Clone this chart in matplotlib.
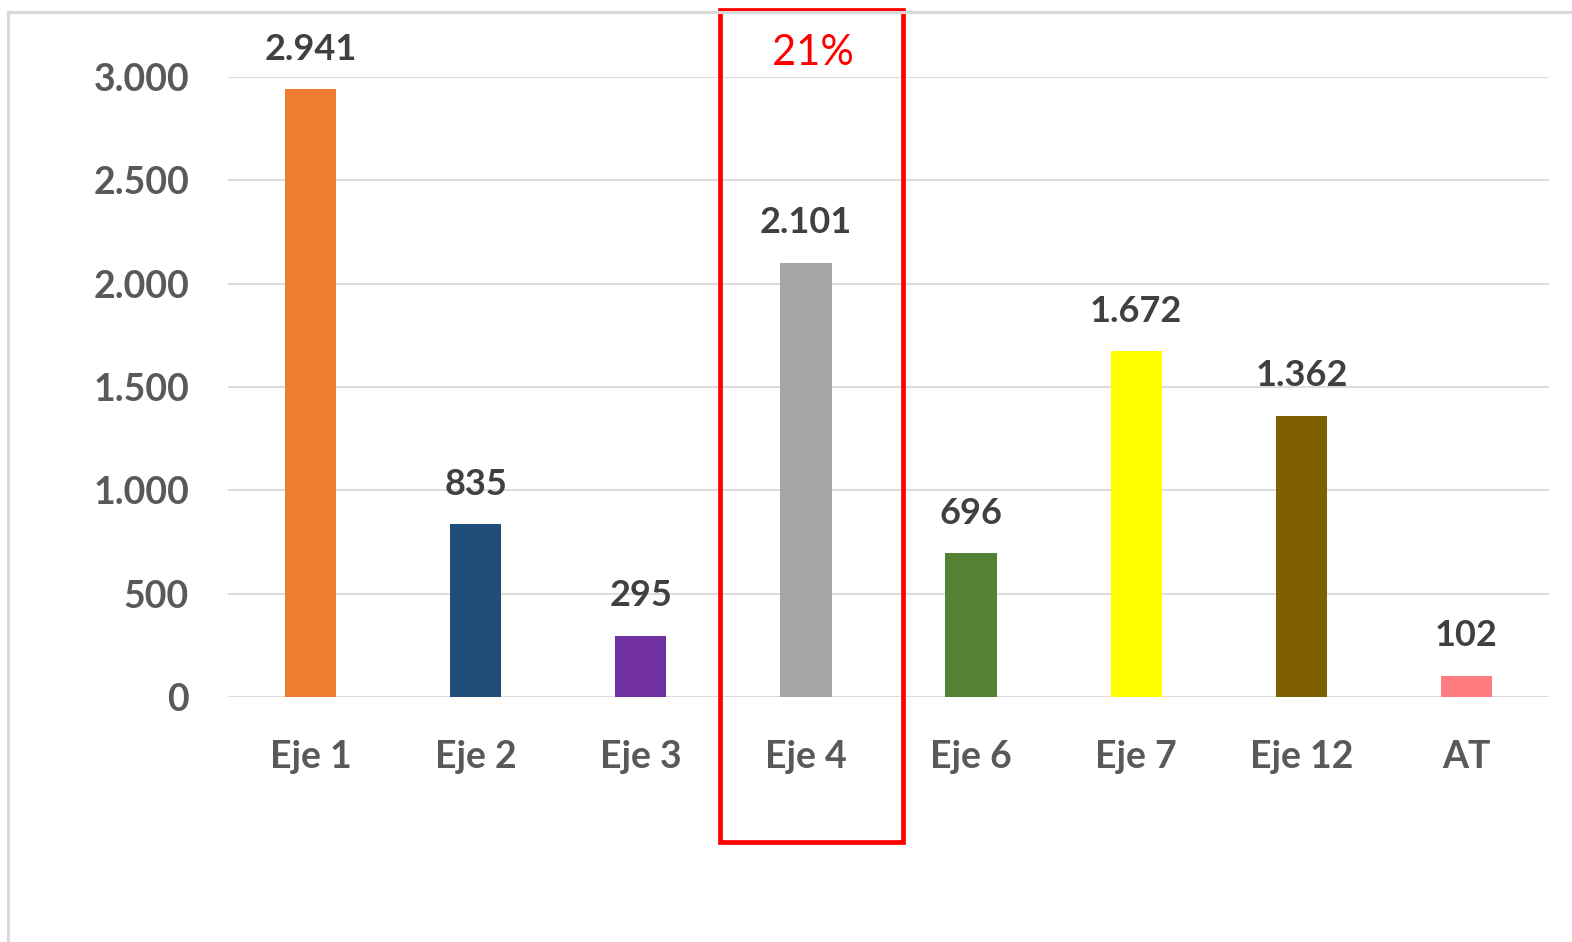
import numpy as np
import matplotlib
matplotlib.use("Agg")
import matplotlib.pyplot as plt
from matplotlib.patches import Rectangle
from matplotlib.lines import Line2D
from matplotlib.transforms import blended_transform_factory

plt.rcParams['font.family'] = ['Lato', 'DejaVu Sans']

categories = ["Eje 1", "Eje 2", "Eje 3", "Eje 4", "Eje 6", "Eje 7", "Eje 12", "AT"]
values = [2941, 835, 295, 2101, 696, 1672, 1362, 102]
colors = ["#ED7D31", "#1F4E79", "#7030A0", "#A5A5A5", "#548235", "#FFFF00", "#7F6000", "#FF7C80"]
yticks = [0, 500, 1000, 1500, 2000, 2500, 3000]
highlight_idx = 3
highlight_text = "21%"


def fmt(v):
    return "{:,}".format(v).replace(",", ".")


fig = plt.figure(figsize=(15.72, 9.42), dpi=100)
ax = fig.add_axes([228/1572, 1-697/942, 1321/1572, 620/942])

x = np.arange(len(categories))
ax.bar(x, values, width=0.31, color=colors, zorder=3)

ax.set_xlim(-0.5, len(categories) - 0.5)
ax.set_ylim(0, 3000)
ax.set_yticks(yticks)
ax.set_yticklabels([fmt(v) for v in yticks])
ax.set_xticks(x)
ax.set_xticklabels(categories)
ax.grid(axis='y', color='#D9D9D9', linewidth=1.3, zorder=0)
for s in ax.spines.values():
    s.set_visible(False)
ax.tick_params(axis='both', length=0, colors='#595959')
ax.tick_params(axis='y', labelsize=27, pad=28)
ax.tick_params(axis='x', labelsize=27, pad=31)
for lab in ax.get_xticklabels() + ax.get_yticklabels():
    lab.set_fontweight('bold')

for xi, v in zip(x, values):
    ax.annotate(fmt(v), (xi, v), xytext=(0, 17), textcoords='offset points',
                ha='center', va='bottom', fontsize=26, fontweight='bold', color='#404040')

# highlight box around Eje 4
tr = blended_transform_factory(ax.transData, fig.transFigure)
y0 = 1 - 842/942
y1 = 1 - 10/942
rect = Rectangle((highlight_idx - 0.52, y0), 1.11, y1 - y0, transform=tr,
                 fill=False, edgecolor='#FF0000', linewidth=3.4, clip_on=False)
fig.add_artist(rect)
fig.text(highlight_idx + 0.04, 1 - 53/942, highlight_text, transform=tr, ha='center', va='center',
         fontsize=30, color='#FF0000')

# outer frame (left and top only visible)
fig.add_artist(Line2D([8/1572, 8/1572], [0, 1 - 12/942], transform=fig.transFigure, color='#D9D9D9', linewidth=2.2))
fig.add_artist(Line2D([8/1572, 1], [1 - 12/942, 1 - 12/942], transform=fig.transFigure, color='#D9D9D9', linewidth=2.2))

fig.savefig("out.png", dpi=100)
